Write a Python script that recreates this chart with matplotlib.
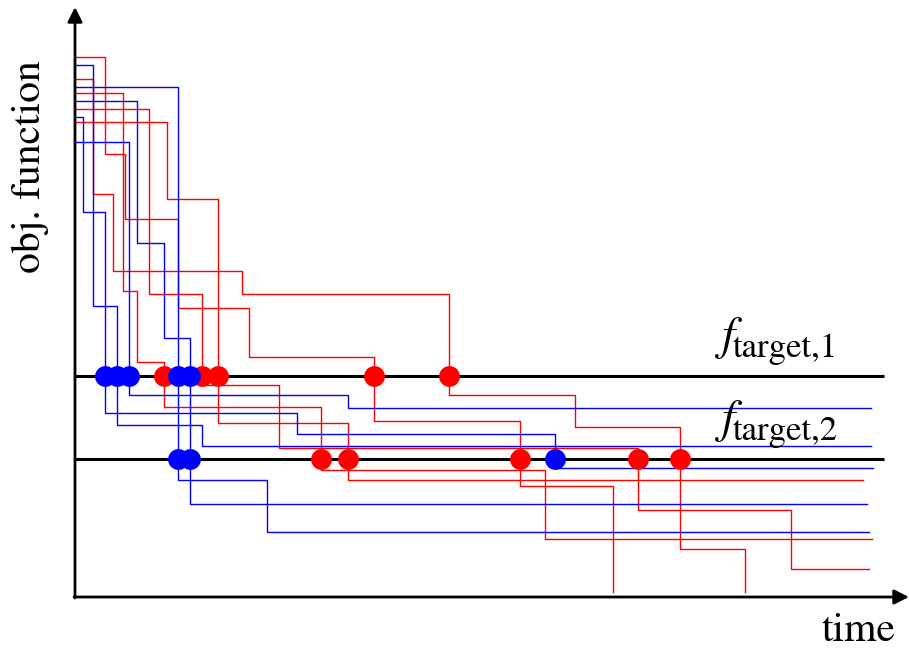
import numpy as np
import matplotlib.pyplot as plt

plt.rcParams['mathtext.fontset'] = 'stix'
plt.rcParams['font.family'] = 'STIXGeneral'

# step curves: start value, then (drop time -> new value), and the time the curve stops
# (time measured from the y-axis, obj. function from the x-axis, both in picture units)
red_runs = [
    dict(drops=[30, 50, 103, 174, 299, 445, 538], values=[540, 443, 378, 289, 240, 176, 111, 5], end=538),
    dict(drops=[18, 38, 167, 374, 500, 605, 670], values=[518, 403, 326, 303, 202, 170, 48, 5], end=670),
    dict(drops=[48, 62, 89, 246, 470], values=[504, 306, 235, 190, 127, 58], end=797),
    dict(drops=[74, 127, 204, 563, 716], values=[488, 303, 212, 149, 87, 28], end=794),
    dict(drops=[92, 143, 273], values=[475, 398, 174, 117], end=788),
]
blue_runs = [
    dict(drops=[18, 42, 127], values=[532, 291, 172, 151], end=796),
    dict(drops=[103, 192], values=[510, 117, 65], end=794),
    dict(drops=[62, 89, 115], values=[496, 354, 259, 93], end=792),
    dict(drops=[8, 30, 222, 480], values=[480, 385, 184, 163, 129], end=798),
    dict(drops=[54, 273], values=[455, 202, 189], end=796),
]

targets = [221, 138]
target_subs = ['target,1', 'target,2']
t_max = 809


def hit_time(run, target):
    """Time at which the run first drops to or below the target, None if never."""
    for i, v in enumerate(run['values']):
        if v <= target:
            return run['drops'][i - 1]
    return None


fig = plt.figure(figsize=(9.09, 6.49), dpi=100)
ax = fig.add_axes([0, 0, 1, 1])
ax.set_xlim(-75, 834)
ax.set_ylim(-52, 597)
ax.axis('off')

for runs, col in [(red_runs, '#ff0000'), (blue_runs, '#0000ff')]:
    for r in runs:
        xs = [0] + r['drops'] + [r['end']]
        ys = r['values'] + [r['values'][-1]]
        ax.step(xs, ys, where='post', color=col, lw=1.0, zorder=2)

for tg in targets:
    ax.plot([0, t_max], [tg, tg], color='black', lw=2.2, zorder=3, solid_capstyle='butt')

# markers where each run reaches a target
for runs, col in [(red_runs, '#ff0000'), (blue_runs, '#0000ff')]:
    for tg in targets:
        hits = [hit_time(r, tg) for r in runs]
        hits = [h for h in hits if h is not None]
        ax.plot(hits, [tg] * len(hits), 'o', color=col, ms=15, mec='none', zorder=4)

# axes with arrow heads
arrow = dict(arrowstyle='-|>', lw=2.0, color='black', mutation_scale=22,
             shrinkA=0, shrinkB=0)
ax.annotate('', xy=(0, 590), xytext=(0, -1), arrowprops=arrow, zorder=5)
ax.annotate('', xy=(834, 0), xytext=(-1, 0), arrowprops=arrow, zorder=5)

ax.text(-45, 430, 'obj. function', rotation=90, fontsize=30, ha='center', va='center')
ax.text(784, -34, 'time', fontsize=30, ha='center', va='center')

# target labels: big italic f with a large subscript
for tg, sub in zip(targets, target_subs):
    ax.text(660, tg + 27, 'f', fontsize=34, style='italic', ha='right', va='baseline')
    ax.text(658, tg + 19, sub, fontsize=25, ha='left', va='baseline')

fig.savefig('out.png', dpi=100)
